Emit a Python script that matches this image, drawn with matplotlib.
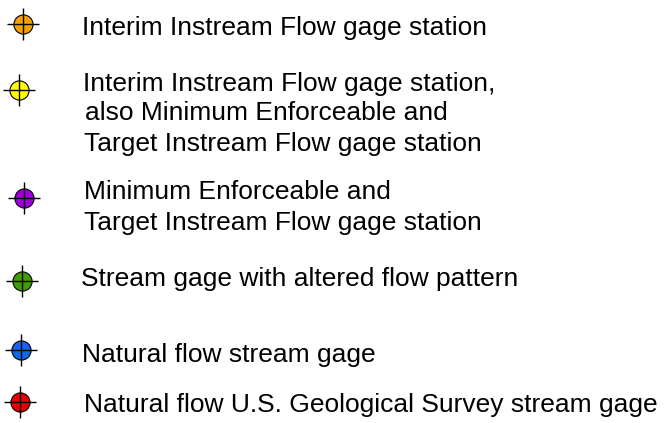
import matplotlib
matplotlib.use('Agg')
import matplotlib.pyplot as plt

# legend entries (one per gage type)
labels = [
    "Interim Instream Flow gage station",
    "Interim Instream Flow gage station,\nalso Minimum Enforceable and\nTarget Instream Flow gage station",
    "Minimum Enforceable and\nTarget Instream Flow gage station",
    "Stream gage with altered flow pattern",
    "Natural flow stream gage",
    "Natural flow U.S. Geological Survey stream gage",
]
colors = ["#F7A100", "#FFFF00", "#9B00D9", "#3C9E00", "#1466E8", "#E60000"]

# layout (pixel coords, origin top-left)
marker_x = [23, 19, 24, 22, 21, 20]
marker_y = [24, 90, 198, 281, 350, 402]
text_x = [[82], [83, 85, 84], [84, 84], [81], [82], [84]]
baselines = [[35], [90.5, 119.5, 151.5], [199, 230], [286], [362], [412]]

W, H = 671, 423
fig = plt.figure(figsize=(W / 100, H / 100), dpi=100)
ax = fig.add_axes([0, 0, 1, 1])
ax.set_xlim(0, W)
ax.set_ylim(H, 0)
ax.axis('off')

for lab, c, mx, my, xs, bl in zip(labels, colors, marker_x, marker_y, text_x, baselines):
    ax.plot(mx, my, 'o', ms=13.8, mfc=c, mec='black', mew=0.8)
    ax.plot(mx, my, '+', ms=23, mec='black', mew=1.0)
    for line, x, y in zip(lab.split("\n"), xs, bl):
        ax.text(x, y, line, fontsize=19, family='Liberation Sans',
                va='baseline', ha='left', color='black')

fig.savefig('out.png', dpi=100)
